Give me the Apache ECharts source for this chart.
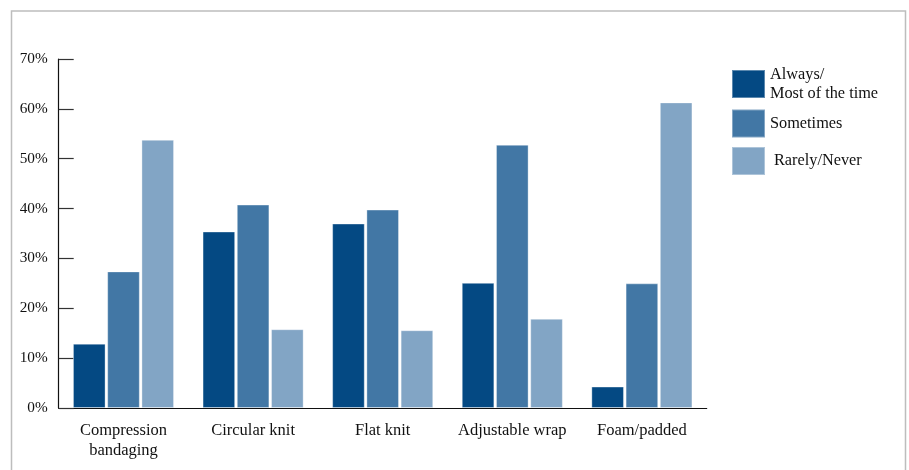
<!DOCTYPE html>
<html>
<head>
<meta charset="utf-8">
<script src="https://cdn.jsdelivr.net/npm/echarts@6/dist/echarts.min.js"></script>
<style>
html,body{margin:0;padding:0;background:#fff;}
#chart{width:909px;height:470px;}
</style>
</head>
<body>
<div id="chart"></div>
<script>
var categories = ['Compression\nbandaging', 'Circular knit', 'Flat knit', 'Adjustable wrap', 'Foam/padded'];
var seriesNames = ['Always/\nMost of the time', 'Sometimes', 'Rarely/Never'];
var always = [12.9, 35.4, 37.0, 25.1, 4.3];
var sometimes = [27.4, 40.8, 39.8, 52.8, 25.0];
var rarely = [53.8, 15.8, 15.6, 17.9, 61.3];
var yTicks = [0, 10, 20, 30, 40, 50, 60, 70];
var colors = ['#044983', '#4277a5', '#82a5c5'];

var font = '"Liberation Serif", "DejaVu Serif", serif';
var chart = echarts.init(document.getElementById('chart'));

function mkSeries(name, data, color) {
  return {
    name: name,
    type: 'bar',
    data: data,
    barGap: '5%',
    barCategoryGap: '22%',
    itemStyle: { color: color, borderColor: 'rgba(255,255,255,0.35)', borderWidth: 1 },
    emphasis: { disabled: true }
  };
}

function mkLegend(name, top, extraPad) {
  return {
    data: [name],
    orient: 'vertical',
    left: 731,
    top: top,
    icon: 'rect',
    itemWidth: 33,
    itemHeight: 28,
    padding: 0,
    selectedMode: false,
    textStyle: { fontFamily: font, fontSize: 16.3, color: '#111', lineHeight: 19.5, padding: [0, 0, 0, extraPad] }
  };
}

chart.setOption({
  animation: false,
  backgroundColor: '#fff',
  graphic: [{
    type: 'polyline',
    shape: { points: [[11.5, 470], [11.5, 11], [905.5, 11], [905.5, 470]] },
    style: { stroke: '#bdbdbd', lineWidth: 1.5, fill: null }
  }],
  legend: [
    mkLegend(seriesNames[0], 64.5, 0),
    mkLegend(seriesNames[1], 108.5, 0),
    mkLegend(seriesNames[2], 146, 4)
  ],
  grid: { left: 58.7, right: 202.3, top: 59, bottom: 62, containLabel: false },
  xAxis: {
    type: 'category',
    data: categories,
    axisLine: { lineStyle: { color: '#111', width: 1.2 } },
    axisTick: { inside: true, length: 9, lineStyle: { color: '#333', width: 1.2 } },
    axisLabel: { fontFamily: font, fontSize: 16.5, color: '#111', lineHeight: 20, margin: 13, interval: 0 }
  },
  yAxis: {
    type: 'value',
    min: 0,
    max: 70,
    interval: 10,
    splitLine: { show: false },
    axisLine: { show: true, lineStyle: { color: '#111', width: 1.2 } },
    axisTick: { show: true, inside: true, length: 15, lineStyle: { color: '#333', width: 1.2 } },
    axisLabel: {
      fontFamily: font, fontSize: 15.3, color: '#111', margin: 11,
      formatter: function (v) { return yTicks.indexOf(v) >= 0 ? v + '%' : ''; }
    }
  },
  series: [
    mkSeries(seriesNames[0], always, colors[0]),
    mkSeries(seriesNames[1], sometimes, colors[1]),
    mkSeries(seriesNames[2], rarely, colors[2])
  ]
});
</script>
</body>
</html>
